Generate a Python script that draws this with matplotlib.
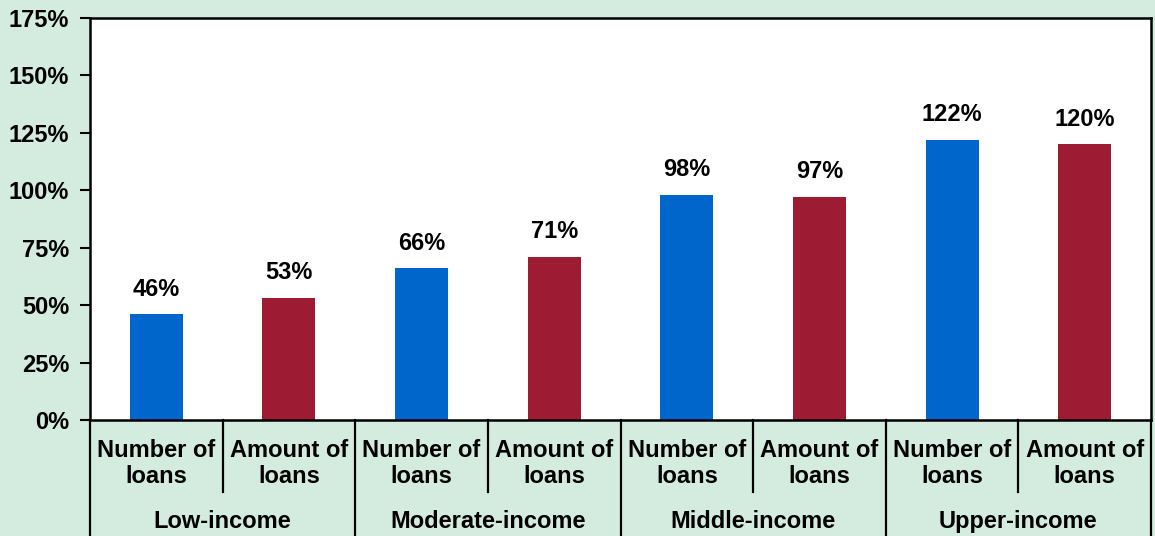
import matplotlib
matplotlib.use('Agg')
import matplotlib.pyplot as plt
import numpy as np

plt.rcParams['font.family'] = ['Liberation Sans', 'DejaVu Sans']
plt.rcParams['font.weight'] = 'bold'

groups = ['Low-income', 'Moderate-income', 'Middle-income', 'Upper-income']
measures = ['Number of\nloans', 'Amount of\nloans']
values = [46, 53, 66, 71, 98, 97, 122, 120]
labels = ['46%', '53%', '66%', '71%', '98%', '97%', '122%', '120%']
yticks = [0, 25, 50, 75, 100, 125, 150, 175]

bg = '#d4ecdf'
blue = '#0066cc'
red = '#9e1b34'
fs = 17

fig = plt.figure(figsize=(11.55, 5.36), dpi=100, facecolor=bg)
ax = fig.add_axes([90/1155, 1-420/536, 1061/1155, 402/536])
ax.set_facecolor('white')

x = np.arange(len(values))
colors = [blue, red] * len(groups)
ax.bar(x, values, width=0.4, color=colors, zorder=2)

for xi, v, lab in zip(x, values, labels):
    ax.text(xi, v + 11, lab, ha='center', va='center', fontsize=fs, fontweight='bold')

ax.set_xlim(-0.5, len(values) - 0.5)
ax.set_ylim(0, 175)
ax.set_yticks(yticks)
ax.set_yticklabels([f'{t}%' for t in yticks], fontsize=fs, fontweight='bold')
ax.tick_params(axis='y', length=7, width=1.5, direction='out', pad=8)
ax.set_xticks([])
for s in ax.spines.values():
    s.set_linewidth(1.8)
    s.set_color('black')

tr = ax.get_xaxis_transform()
# category labels
for i in range(len(values)):
    ax.text(i, -0.108, measures[i % 2], transform=tr, ha='center', va='center',
            fontsize=fs, fontweight='bold', linespacing=1.2)
for g, name in enumerate(groups):
    ax.text(2 * g + 0.5, -0.252, name, transform=tr, ha='center', va='center',
            fontsize=fs, fontweight='bold')

# separator lines
for g in range(len(groups) + 1):
    xs = 2 * g - 0.5
    ax.plot([xs, xs], [0, -0.3], transform=tr, color='black', lw=1.6, clip_on=False)
for g in range(len(groups)):
    xs = 2 * g + 0.5
    ax.plot([xs, xs], [0, -0.179], transform=tr, color='black', lw=1.6, clip_on=False)

fig.savefig('out.png', dpi=100, facecolor=bg)
